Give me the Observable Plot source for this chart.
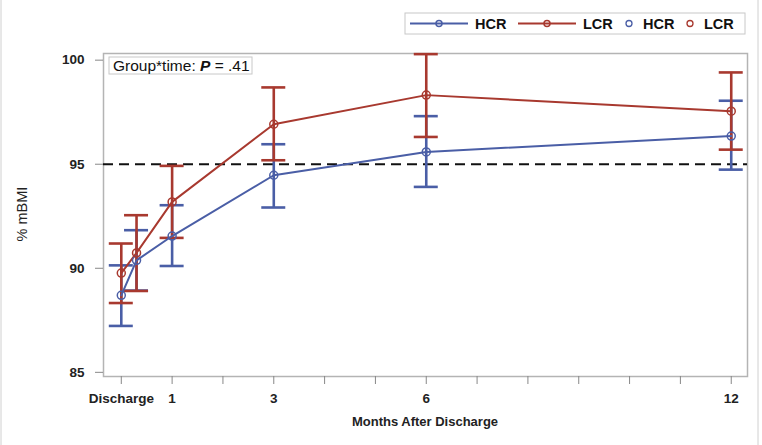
<!DOCTYPE html>
<html>
<head>
<meta charset="utf-8">
<script src="https://cdn.jsdelivr.net/npm/d3@7"></script>
<script src="https://cdn.jsdelivr.net/npm/@observablehq/plot@0.6"></script>
<style>
  html, body { margin: 0; padding: 0; background: #fff; }
  #chart { position: relative; width: 762px; height: 445px; }
  svg text { font-family: "Liberation Sans", Arial, sans-serif; }
</style>
</head>
<body>
<div id="chart"></div>
<script>
// ---- data ----
const months = [0, 0.3, 1, 3, 6, 12];
const hcrMean = [88.70, 90.38, 91.55, 94.47, 95.59, 96.35];
const hcrLow  = [87.23, 88.93, 90.11, 92.92, 93.91, 94.74];
const hcrHigh = [90.14, 91.83, 93.03, 95.96, 97.31, 98.05];
const lcrMean = [89.77, 90.74, 93.19, 96.92, 98.32, 97.55];
const lcrLow  = [88.33, 88.91, 91.46, 95.19, 96.31, 95.70];
const lcrHigh = [91.19, 92.55, 94.92, 98.69, 100.29, 99.41];
const groups = ["HCR", "LCR"];
const yTicks = [85, 90, 95, 100];
const xTicks = [0,1,2,3,4,5,6,7,8,9,10,11,12];
const xTickLabels = {0: "Discharge", 1: "1", 3: "3", 6: "6", 12: "12"};
const refLine = 95;
const annotation = ["Group*time: ", "P", " = .41"];

const colors = {HCR: "#4a5ea6", LCR: "#a8392f"};

const rows = [];
months.forEach((m, i) => {
  rows.push({group: "HCR", month: m, mean: hcrMean[i], low: hcrLow[i], high: hcrHigh[i]});
});
months.forEach((m, i) => {
  rows.push({group: "LCR", month: m, mean: lcrMean[i], low: lcrLow[i], high: lcrHigh[i]});
});
const hcr = rows.filter(d => d.group === "HCR");
const lcr = rows.filter(d => d.group === "LCR");

const W = 762, H = 445;
const capHalf = 12;
const widenCaps = (index, scales, values, dims, ctx, next) => {
  const g = next(index, scales, values, dims, ctx);
  d3.select(g).selectAll("line").each(function() {
    const x = +this.getAttribute("x1");
    this.setAttribute("x1", x - capHalf); this.setAttribute("x2", x + capHalf);
  });
  return g;
};
const plot = Plot.plot({
  width: W,
  height: H,
  marginLeft: 103,
  marginRight: 15,
  marginTop: 53,
  marginBottom: 69,
  style: {fontFamily: "Liberation Sans, Arial, sans-serif", background: "#fff"},
  x: {type: "linear", domain: [-0.35, 12.32]},
  y: {type: "linear", domain: [84.8, 100.32]},
  marks: [
    Plot.frame({stroke: "#b4b4b4", strokeWidth: 1.5}),
    Plot.axisY({ticks: yTicks, tickSize: 8, tickPadding: 11, stroke: "#888", fontSize: 13.5, fontWeight: "bold", fill: "#222", label: null}),
    Plot.axisX({ticks: xTicks, tickSize: 8, tickPadding: 9, stroke: "#888", fontSize: 13.5, fontWeight: "bold", fill: "#222",
      tickFormat: d => xTickLabels[d] ?? "", label: null}),
    Plot.ruleY([refLine], {stroke: "#111", strokeWidth: 2, strokeDasharray: "10,6"}),
    // error bars: HCR first, then LCR
    Plot.ruleX(hcr, {x: "month", y1: "low", y2: "high", stroke: colors.HCR, strokeWidth: 2.6}),
    Plot.ruleY(hcr, {y: "low", x1: "month", x2: "month", stroke: colors.HCR, strokeWidth: 2.6, render: widenCaps}),
    Plot.ruleY(hcr, {y: "high", x1: "month", x2: "month", stroke: colors.HCR, strokeWidth: 2.6, render: widenCaps}),
    Plot.ruleX(lcr, {x: "month", y1: "low", y2: "high", stroke: colors.LCR, strokeWidth: 2.6}),
    Plot.ruleY(lcr, {y: "low", x1: "month", x2: "month", stroke: colors.LCR, strokeWidth: 2.6, render: widenCaps}),
    Plot.ruleY(lcr, {y: "high", x1: "month", x2: "month", stroke: colors.LCR, strokeWidth: 2.6, render: widenCaps}),
    // lines
    Plot.line(hcr, {x: "month", y: "mean", stroke: colors.HCR, strokeWidth: 2}),
    Plot.line(lcr, {x: "month", y: "mean", stroke: colors.LCR, strokeWidth: 2}),
    Plot.dot(hcr, {x: "month", y: "mean", r: 4, stroke: colors.HCR, strokeWidth: 1.5, fill: "none"}),
    Plot.dot(lcr, {x: "month", y: "mean", r: 4, stroke: colors.LCR, strokeWidth: 1.5, fill: "none"})
  ]
});
document.getElementById("chart").appendChild(plot);

const svg = d3.select(plot);

// axis titles
svg.append("text").attr("x", 425).attr("y", 426).attr("text-anchor", "middle")
  .attr("font-size", 13).attr("font-weight", "bold").attr("fill", "#222").text("Months After Discharge");
svg.append("text").attr("transform", "translate(27,214) rotate(-90)").attr("text-anchor", "middle")
  .attr("font-size", 14.5).attr("fill", "#222").text("% mBMI");

// annotation box
const ann = svg.append("g").attr("text-anchor", "start");
ann.append("rect").attr("x", 109).attr("y", 57).attr("width", 143).attr("height", 17)
  .attr("fill", "#fff").attr("stroke", "#c8c8c8");
const at = ann.append("text").attr("x", 113).attr("y", 71).attr("font-size", 15.5).attr("fill", "#111");
at.append("tspan").text(annotation[0]);
at.append("tspan").attr("font-style", "italic").attr("font-weight", "bold").text(annotation[1]);
at.append("tspan").text(annotation[2]);

// legend
const lg = svg.append("g").attr("text-anchor", "start").attr("font-size", 14.5).attr("font-weight", "bold").attr("fill", "#111");
lg.append("rect").attr("x", 405).attr("y", 13).attr("width", 340).attr("height", 21)
  .attr("fill", "#fff").attr("stroke", "#c8c8c8");
const ly = 23.5;
function lineItem(x0, color, label) {
  lg.append("line").attr("x1", x0).attr("x2", x0 + 58).attr("y1", ly).attr("y2", ly).attr("stroke", color).attr("stroke-width", 2);
  lg.append("circle").attr("cx", x0 + 29).attr("cy", ly).attr("r", 3).attr("fill", "none").attr("stroke", color).attr("stroke-width", 1.5);
  lg.append("text").attr("x", x0 + 65).attr("y", ly + 5).text(label);
}
function dotItem(x0, color, label) {
  lg.append("circle").attr("cx", x0).attr("cy", ly).attr("r", 3).attr("fill", "none").attr("stroke", color).attr("stroke-width", 1.3);
  lg.append("text").attr("x", x0 + 14).attr("y", ly + 5).text(label);
}
lineItem(410, colors.HCR, groups[0]);
lineItem(518, colors.LCR, groups[1]);
dotItem(629, colors.HCR, groups[0]);
dotItem(690, colors.LCR, groups[1]);

// outer border
svg.append("line").attr("x1", 1).attr("x2", 1).attr("y1", 0).attr("y2", H).attr("stroke", "#d0d0d0");
svg.append("line").attr("x1", 758).attr("x2", 758).attr("y1", 0).attr("y2", H).attr("stroke", "#d0d0d0");
</script>
</body>
</html>
